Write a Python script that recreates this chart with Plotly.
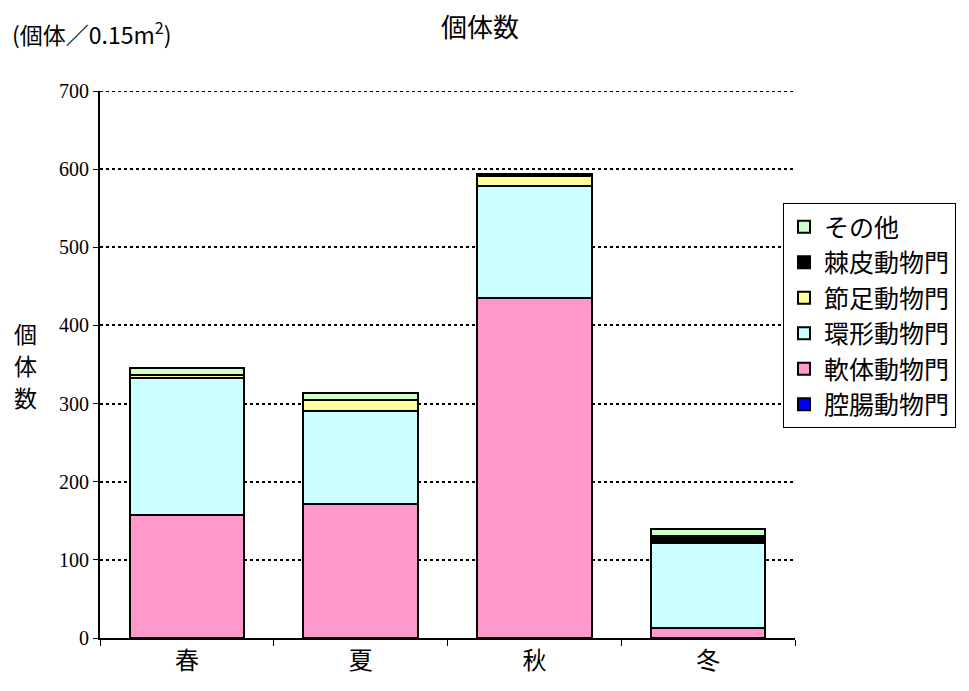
import plotly.graph_objects as go

seasons = ["春", "夏", "秋", "冬"]
series_names = ["腔腸動物門", "軟体動物門", "環形動物門", "節足動物門", "棘皮動物門", "その他"]
cnidaria = [0, 0, 0, 0]
mollusca = [158, 171, 435, 13]
annelida = [175, 119, 143, 108]
arthropoda = [3, 14, 13, 2]
echinodermata = [1, 0, 1, 7]
others = [8, 9, 2, 9]
colors = ["#0000FF", "#FF99CC", "#CCFFFF", "#FFFF99", "#000000", "#CCFFCC"]
yticks = [0, 100, 200, 300, 400, 500, 600, 700]
ylabel_chars = ["個", "体", "数"]

FONT = "Noto Sans CJK JP"
PW, PH = 695, 547  # plot area size in px
fig = go.Figure()
for name, vals, col in zip(series_names,
                           [cnidaria, mollusca, annelida, arthropoda, echinodermata, others],
                           colors):
    fig.add_trace(go.Bar(x=seasons, y=vals, name=name,
                         marker=dict(color=col, line=dict(color="black", width=2))))

fig.update_layout(
    barmode="stack", bargap=0.34,
    width=969, height=691,
    margin=dict(l=100, r=174, t=91, b=53),
    paper_bgcolor="white", plot_bgcolor="white",
    font=dict(family=FONT, color="black", size=18),
    title=dict(text="個体数", x=(480 - 100) / PW, xref="paper", xanchor="center",
               y=1 - 28 / 691, yanchor="middle",
               font=dict(size=26, family=FONT)),
    legend=dict(x=(783 - 100) / PW, y=(638 - 203) / PH, xref="paper", yref="paper",
                xanchor="left", yanchor="top", traceorder="reversed",
                bordercolor="black", borderwidth=1, bgcolor="white",
                font=dict(size=25, family=FONT), itemwidth=30,
                tracegroupgap=0),
    xaxis=dict(showline=True, linecolor="black", linewidth=2,
               ticks="outside", tickson="boundaries", ticklen=6, tickcolor="black",
               tickfont=dict(size=24, family=FONT)),
    yaxis=dict(range=[0, 700], tickvals=yticks, showline=True, linecolor="black",
               linewidth=2, ticks="outside", ticklen=5, tickcolor="black",
               showgrid=True, gridcolor="black", griddash="dot", gridwidth=2,
               tickfont=dict(size=20, family="Liberation Serif"), zeroline=False),
)
# top gridline at 700 (plot edge)
fig.add_shape(type="line", xref="paper", yref="y", x0=0, x1=1, y0=700, y1=700,
              line=dict(color="black", width=2, dash="dot"))
fig.add_annotation(text="(個体／0.15m<sup>2</sup>)", xref="paper", yref="paper",
                   x=(10 - 100) / PW, y=(638 - 33) / PH, xanchor="left", yanchor="middle",
                   showarrow=False, font=dict(size=23, family=FONT))
for ch, py in zip(ylabel_chars, [333, 365, 397]):
    fig.add_annotation(text=ch, xref="paper", yref="paper",
                       x=(25 - 100) / PW, y=(638 - py) / PH, xanchor="center",
                       yanchor="middle", showarrow=False,
                       font=dict(size=23, family=FONT))
fig.write_html("out.html")
